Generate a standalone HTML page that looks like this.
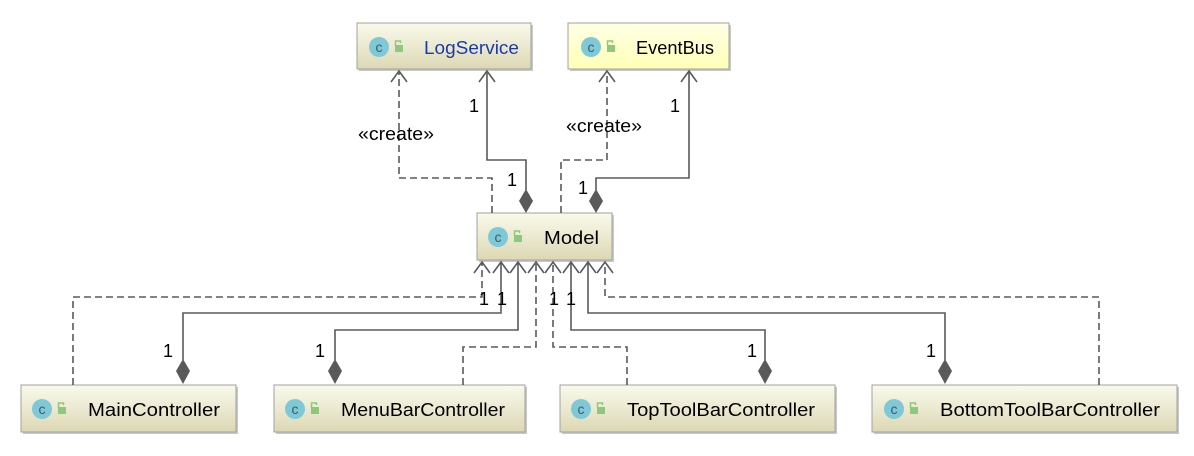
<!DOCTYPE html>
<html><head><meta charset="utf-8"><style>
html,body{margin:0;padding:0;background:#fff;}
svg{display:block;}
text{font-family:"Liberation Sans",sans-serif;}
</style></head><body>
<svg width="1194" height="456" viewBox="0 0 1194 456" xmlns="http://www.w3.org/2000/svg">
<defs>
<linearGradient id="g" x1="0" y1="0" x2="0" y2="1">
<stop offset="0" stop-color="#fafaec"/><stop offset="1" stop-color="#dcd8b4"/></linearGradient>
<linearGradient id="gy" x1="0" y1="0" x2="0" y2="1">
<stop offset="0" stop-color="#ffffe4"/><stop offset="1" stop-color="#ffffb8"/></linearGradient>
<g id="ic">
<circle cx="0" cy="0" r="10" fill="#7ec8d8"/>
<text x="0" y="5" font-size="14" text-anchor="middle" fill="#3d5c66">c</text>
<rect x="16" y="-2" width="8" height="7" fill="#8cc97a"/>
<path d="M16.5,-1 v-5 h5 v2" fill="none" stroke="#8cc97a" stroke-width="1.5"/>
</g>
</defs>

<g stroke="#a0a0a0" stroke-width="1">
<rect x="359" y="25" width="174" height="46" fill="#c8c8c8" stroke="none"/>
<rect x="357" y="23" width="174" height="46" fill="url(#g)"/>
<rect x="570" y="25" width="161" height="46" fill="#c8c8c8" stroke="none"/>
<rect x="568" y="23" width="161" height="46" fill="url(#gy)"/>
<rect x="479" y="215" width="135" height="47" fill="#c8c8c8" stroke="none"/>
<rect x="477" y="213" width="135" height="47" fill="url(#g)"/>
<rect x="23" y="387" width="215" height="47" fill="#c8c8c8" stroke="none"/>
<rect x="21" y="385" width="215" height="47" fill="url(#g)"/>
<rect x="276" y="387" width="251" height="47" fill="#c8c8c8" stroke="none"/>
<rect x="274" y="385" width="251" height="47" fill="url(#g)"/>
<rect x="562" y="387" width="275" height="47" fill="#c8c8c8" stroke="none"/>
<rect x="560" y="385" width="275" height="47" fill="url(#g)"/>
<rect x="874" y="387" width="305" height="47" fill="#c8c8c8" stroke="none"/>
<rect x="872" y="385" width="305" height="47" fill="url(#g)"/>
</g>
<use href="#ic" x="379" y="47"/><use href="#ic" x="591" y="47"/>
<use href="#ic" x="498" y="237"/><use href="#ic" x="42" y="409"/>
<use href="#ic" x="295" y="409"/><use href="#ic" x="581" y="409"/>
<use href="#ic" x="894" y="409"/>
<g font-size="18" fill="#000">
<text x="424" y="54" fill="#1a3caa" textLength="95" lengthAdjust="spacingAndGlyphs">LogService</text>
<text x="636" y="54" textLength="78" lengthAdjust="spacingAndGlyphs">EventBus</text>
<text x="544" y="244" textLength="55" lengthAdjust="spacingAndGlyphs">Model</text>
<text x="88" y="416" textLength="132" lengthAdjust="spacingAndGlyphs">MainController</text>
<text x="341" y="416" textLength="164" lengthAdjust="spacingAndGlyphs">MenuBarController</text>
<text x="627" y="416" textLength="188" lengthAdjust="spacingAndGlyphs">TopToolBarController</text>
<text x="940" y="416" textLength="220" lengthAdjust="spacingAndGlyphs">BottomToolBarController</text>
</g>

<g fill="none" stroke="#5a5a5a" stroke-width="1.6">
<g stroke-dasharray="7,4">
<path d="M492,213 V178 H399 V72"/>
<path d="M561,213 V160 H607 V72"/>
<path d="M73,385 V297 H482 V263"/>
<path d="M463,385 V347 H536 V263"/>
<path d="M627,385 V347 H553 V263"/>
<path d="M1099,385 V297 H605 V263"/>
</g>
<path d="M526,190 V160 H487 V72"/>
<path d="M596,190 V178 H689 V72"/>
<path d="M183,360 V313 H501 V263"/>
<path d="M335,360 V330 H518 V263"/>
<path d="M765,360 V330 H571 V263"/>
<path d="M945,360 V313 H588 V263"/>
<path d="M391,82 L399,71 L407,82 M479,82 L487,71 L495,82 M599,82 L607,71 L615,82 M681,82 L689,71 L697,82"/>
<path d="M474,273 L482,262 L490,273 M493,273 L501,262 L509,273 M510,273 L518,262 L526,273 M528,273 L536,262 L544,273 M545,273 L553,262 L561,273 M563,273 L571,262 L579,273 M580,273 L588,262 L596,273 M597,273 L605,262 L613,273"/>
</g>
<g fill="#5a5a5a">
<path d="M526,189 L533,201 L526,213 L519,201Z"/>
<path d="M596,189 L603,201 L596,213 L589,201Z"/>
<path d="M183,359 L190,371 L183,384 L176,371Z"/>
<path d="M335,359 L342,371 L335,384 L328,371Z"/>
<path d="M765,359 L772,371 L765,384 L758,371Z"/>
<path d="M945,359 L952,371 L945,384 L938,371Z"/>
</g>
<g font-size="18" fill="#000">
<text x="358" y="140" textLength="76" lengthAdjust="spacingAndGlyphs">«create»</text>
<text x="566" y="132" textLength="76" lengthAdjust="spacingAndGlyphs">«create»</text>
<text x="469" y="112">1</text>
<text x="670" y="112">1</text>
<text x="507" y="186">1</text>
<text x="578" y="194">1</text>
<text x="479" y="305">1</text>
<text x="497" y="305">1</text>
<text x="549" y="305">1</text>
<text x="566" y="305">1</text>
<text x="163" y="357">1</text>
<text x="315" y="357">1</text>
<text x="747" y="357">1</text>
<text x="926" y="357">1</text>
</g>
</svg>
</body></html>
